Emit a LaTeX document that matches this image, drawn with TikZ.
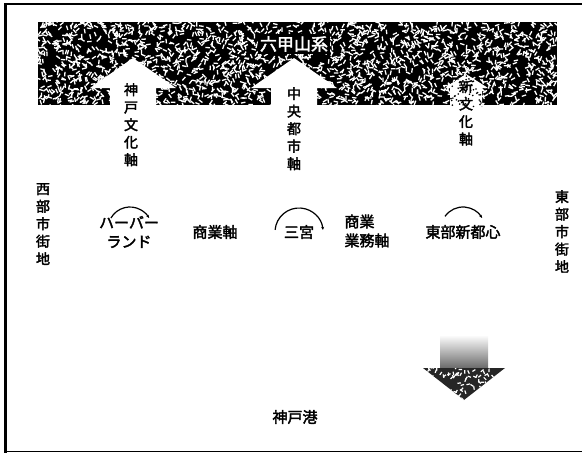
\documentclass[tikz,border=0pt]{standalone}
\usepackage{fontspec}
\newfontfamily\cjk[AutoFakeBold=2.5]{Noto Sans CJK JP}
\usetikzlibrary{arrows.meta}

\begin{document}
\begin{tikzpicture}[x=1pt,y=-1pt,
  vlabel/.style={font=\cjk\bfseries\fontsize{14}{17.5}\selectfont, align=center, inner sep=0pt},
  hlabel/.style={font=\cjk\bfseries\fontsize{15}{19}\selectfont, align=left, inner sep=0pt},
  ring/.style={line width=1.2pt, -{Stealth[length=3pt,width=3pt]}}]
\useasboundingbox (0,0) rectangle (582,455);

% frame
\path[draw,line width=3pt] (5,3) -- (5,453);
\path[draw,line width=1.5pt] (5,4) -- (582,4);
\path[draw,line width=1pt] (5,451) -- (582,451);

% mountain band
\fill[black] (38,22) rectangle (557,105);
\begin{scope}
\clip (38,22) rectangle (557,105);
\pgfmathsetseed{42}
\foreach \i in {1,...,2200}{
  \pgfmathsetmacro{\px}{38+519*rnd}
  \pgfmathsetmacro{\py}{22+83*rnd}
  \pgfmathsetmacro{\pa}{360*rnd}
  \draw[white,line width=1.3pt] (\px,\py) -- ++(\pa:4.5);
}
\end{scope}
\node[fill=black, text=white, inner sep=2pt, font=\cjk\bfseries\fontsize{17}{19}\selectfont] (title) at (294,44) {六甲山系};

% axis arrows cut into the band
\foreach \ax in {133,294}{
  \fill[white] (\ax,58) -- (\ax+43,88) -- (\ax+23,88) -- (\ax+23,107)
    -- (\ax-23,107) -- (\ax-23,88) -- (\ax-43,88) -- cycle;
}
\fill[white] (466,74) -- (488,88) -- (482,88) -- (482,107) -- (450,107) -- (450,88) -- (444,88) -- cycle;
\begin{scope}
\clip (466,74) -- (488,88) -- (482,88) -- (482,107) -- (450,107) -- (450,88) -- (444,88) -- cycle;
\foreach \i in {1,...,70}{
  \pgfmathsetmacro{\px}{444+44*rnd}
  \pgfmathsetmacro{\py}{74+33*rnd}
  \fill[black] (\px,\py) circle (0.9);
}
\end{scope}

% arrow towards the port
\shade[top color=white, bottom color=black!60] (440,335) rectangle (488,369);
\fill[black!85] (423,368) -- (505,368) -- (464,400) -- cycle;
\begin{scope}
\clip (423,368) -- (505,368) -- (464,400) -- cycle;
\foreach \i in {1,...,90}{
  \pgfmathsetmacro{\px}{423+82*rnd}
  \pgfmathsetmacro{\py}{368+30*rnd}
  \pgfmathsetmacro{\pa}{360*rnd}
  \draw[white,line width=1.2pt] (\px,\py) -- ++(\pa:3.5);
}
\end{scope}

% vertical labels
\node[vlabel, anchor=north] (kobe) at (131,83) {神\\戸\\文\\化\\軸};
\node[vlabel, anchor=north] (chuo) at (294,87) {中\\央\\都\\市\\軸};
\node[vlabel, anchor=north] (shin) at (466,80) {新\\文\\化\\軸};
\node[vlabel, anchor=north] (west) at (43,183) {西\\部\\市\\街\\地};
\node[vlabel, anchor=north] (east) at (562,190) {東\\部\\市\\街\\地};

% centres
\node[hlabel, align=center] (harbor) at (129,232) {ハーバー\\ランド};
\node[hlabel] (shogyo) at (215,232) {商業軸};
\node[hlabel] (sannomiya) at (299,232) {三宮};
\node[hlabel] (gyomu) at (367,231) {商業\\業務軸};
\node[hlabel] (toubu) at (463,232) {東部新都心};
\node[hlabel] (port) at (295,417) {神戸港};

\draw[ring] (130,229) ++(210:22) arc[start angle=210, end angle=330, radius=22];
\draw[ring] (sannomiya.center) ++(185:24) arc[start angle=185, end angle=355, radius=24];
\draw[ring] (463,229) ++(215:22) arc[start angle=215, end angle=330, radius=22];
\end{tikzpicture}
\end{document}
